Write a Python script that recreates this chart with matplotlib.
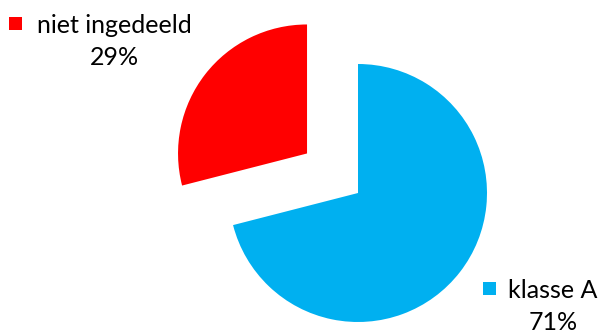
import matplotlib.pyplot as plt
from matplotlib.patches import Rectangle

# Data
categories = ["klasse A", "niet ingedeeld"]
values = [71, 29]
colors = ["#00B0F0", "#FF0000"]

plt.rcParams['font.family'] = ['Lato', 'DejaVu Sans']

fig = plt.figure(figsize=(6, 3.33), dpi=100)
ax = fig.add_axes([0, 0, 1, 1])

# Pie in pixel coordinates (explode is absolute, half the radius)
r = 129
ax.pie(values, colors=colors, startangle=90, counterclock=False,
       explode=[0, 0.5 * r], center=(358, 333 - 193), radius=r,
       wedgeprops=dict(linewidth=0))
ax.set_xlim(0, 600)
ax.set_ylim(0, 333)
ax.set_aspect('equal')
ax.axis('off')

total = sum(values)
pct = [f"{round(v / total * 100)}%" for v in values]

# Labels (text center x, baseline y of name, square left x)
label_pos = {
    "klasse A": (553, 298, 483),
    "niet ingedeeld": (114, 33, 9),
}
for cat, col, p in zip(categories, colors, pct):
    cx, by, sx = label_pos[cat]
    ax.text(cx, 333 - by, cat, ha='center', va='baseline', fontsize=18, color='black')
    ax.text(cx, 333 - by - 32, p, ha='center', va='baseline', fontsize=18, color='black')
    ax.add_patch(Rectangle((sx, 333 - by + 3), 13, 13, color=col, lw=0))

fig.savefig("out.png", dpi=100)
